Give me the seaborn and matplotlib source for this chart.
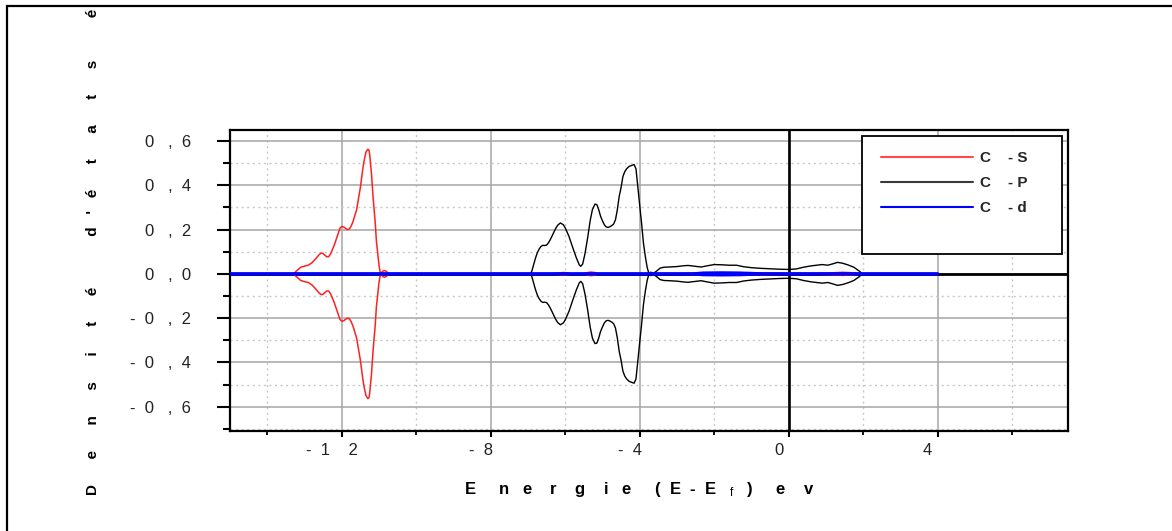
import matplotlib
matplotlib.use("Agg")
import matplotlib.pyplot as plt
import seaborn as sns
from matplotlib.patches import Rectangle
from matplotlib.lines import Line2D
from matplotlib.ticker import MultipleLocator, FixedLocator, FixedFormatter
from matplotlib.transforms import Bbox, TransformedBbox, ScaledTranslation

# ---------------- data (spin-up branch; spin-down is drawn mirrored) ----------------
cs_energy = [-15.0, -13.4, -13.3, -13.2, -13.1, -13.0, -12.9, -12.8, -12.7, -12.6, -12.55,
             -12.5, -12.45, -12.4, -12.35, -12.3, -12.2, -12.1, -12.05, -12.0, -11.95, -11.9,
             -11.85, -11.8, -11.75, -11.7, -11.6, -11.5, -11.43, -11.4, -11.35, -11.3, -11.27,
             -11.25, -11.2, -11.16, -11.1, -11.07, -11.0, -10.96, -10.9, -10.85, -10.8, -10.73,
             -6.4, -6.2, -6.05, -5.95, -5.85, -5.5, -5.4, -5.3, -5.2, -5.12,
             -3.0, -2.5, -1.5, -0.5, 0.0, 0.8, 1.2, 1.45, 1.7, 2.0, 4.0]
cs_dos = [0.0, 0.0, 0.0, 0.015, 0.03, 0.035, 0.039, 0.05, 0.068, 0.088, 0.094,
          0.092, 0.084, 0.077, 0.078, 0.09, 0.13, 0.18, 0.205, 0.214, 0.212, 0.206,
          0.2, 0.202, 0.215, 0.235, 0.29, 0.39, 0.48, 0.51, 0.55, 0.563, 0.56,
          0.54, 0.45, 0.35, 0.23, 0.15, 0.04, 0.0, 0.012, 0.015, 0.011, 0.0,
          0.0, 0.003, 0.006, 0.005, 0.0, 0.0, 0.006, 0.008, 0.006, 0.0,
          0.0, 0.003, 0.005, 0.003, 0.002, 0.002, 0.005, 0.007, 0.005, 0.0, 0.0]

cp_energy = [-15.0, -6.95, -6.9, -6.85, -6.8, -6.75, -6.7, -6.65, -6.6, -6.55, -6.5, -6.45,
             -6.4, -6.35, -6.3, -6.25, -6.2, -6.13, -6.05, -6.0, -5.9, -5.8, -5.7, -5.62,
             -5.58, -5.53, -5.47, -5.4, -5.33, -5.27, -5.2, -5.15, -5.1, -5.05, -5.0, -4.95,
             -4.9, -4.85, -4.8, -4.75, -4.7, -4.65, -4.6, -4.55, -4.5, -4.45, -4.4, -4.35,
             -4.28, -4.2, -4.15, -4.1, -4.06, -4.0, -3.95, -3.9, -3.85, -3.8, -3.75, -3.7,
             -3.65, -3.55, -3.45, -3.35, -3.2, -3.0, -2.8, -2.7, -2.5, -2.35, -2.2, -2.0,
             -1.8, -1.6, -1.4, -1.2, -1.0, -0.75, -0.5, -0.25, 0.0, 0.2, 0.4, 0.6, 0.8,
             0.9, 1.05, 1.2, 1.31, 1.45, 1.6, 1.75, 1.9, 1.98, 4.0]
cp_dos = [0.0, 0.0, 0.01, 0.04, 0.07, 0.095, 0.112, 0.124, 0.129, 0.128, 0.13, 0.14,
          0.155, 0.172, 0.19, 0.207, 0.22, 0.23, 0.222, 0.208, 0.17, 0.12, 0.072, 0.04,
          0.034, 0.045, 0.09, 0.16, 0.24, 0.29, 0.315, 0.313, 0.29, 0.26, 0.24, 0.222,
          0.212, 0.21, 0.213, 0.218, 0.225, 0.245, 0.29, 0.35, 0.39, 0.44, 0.462, 0.475,
          0.486, 0.491, 0.494, 0.475, 0.41, 0.31, 0.23, 0.14, 0.08, 0.03, 0.0, 0.008,
          0.0, 0.012, 0.026, 0.03, 0.031, 0.033, 0.037, 0.038, 0.034, 0.031, 0.036, 0.042,
          0.041, 0.039, 0.039, 0.032, 0.028, 0.025, 0.023, 0.021, 0.02, 0.022, 0.03, 0.036, 0.04,
          0.042, 0.039, 0.046, 0.052, 0.048, 0.04, 0.03, 0.012, 0.0, 0.0]

cd_energy = [-15.0, -2.6, -2.3, -1.8, -1.3, -0.6, 4.0]
cd_dos = [0.0, 0.0, 0.004, 0.005, 0.004, 0.0, 0.0]

series_names = ["C    - S", "C    - P", "C    - d"]
xtick_values = [-12, -8, -4, 0, 4]
xtick_labels = ["-  1    2", "-  8", "-  4", "0", "4"]
ytick_values = [-0.6, -0.4, -0.2, 0.0, 0.2, 0.4, 0.6]
ytick_labels = ["-  0   ,  6", "-  0   ,  4", "-  0   ,  2", "0   ,  0",
                "0   ,  2", "0   ,  4", "0   ,  6"]
ylabel_text = ("D      e      n      s      i      t      é            "
               "d   '   é      t      a      t      s          "
               "é      l      e      c      t      r      o      n      i      q      u      e      s")
xlabel_text = ("E     n   e    r    g    i   e     (  E  -  E   "
               "$_{\\mathrm{f}}$   )     e    v")

# ---------------- style ----------------
sns.set_theme(style="white")
FONT = "Liberation Sans"
plt.rcParams["font.family"] = [FONT, "DejaVu Sans"]
plt.rcParams["mathtext.fontset"] = "custom"
plt.rcParams["mathtext.rm"] = FONT
plt.rcParams["mathtext.it"] = FONT
plt.rcParams["mathtext.bf"] = FONT + ":bold"

W, H = 1172, 531
fig = plt.figure(figsize=(W / 100, H / 100), dpi=100)
fig.patch.set_facecolor("white")
ax = fig.add_axes([230 / W, 100 / H, 838 / W, 301 / H])
ax.set_facecolor("white")

red = "#ff2020"
blue = "#0000ff"

ax.axhline(0, color="black", lw=2.0, zorder=2)
ax.axvline(0, color="black", lw=1.9, zorder=2)

for energy, dos, col, lw, z in [(cs_energy, cs_dos, red, 1.1, 3),
                                (cp_energy, cp_dos, "black", 1.0, 3),
                                (cd_energy, cd_dos, blue, 2.2, 4)]:
    sns.lineplot(x=energy, y=dos, color=col, lw=lw, sort=False, estimator=None,
                 ax=ax, zorder=z)
    sns.lineplot(x=energy, y=[-v for v in dos], color=col, lw=lw, sort=False,
                 estimator=None, ax=ax, zorder=z)

ax.set_xlim(-15, 7.5)
ax.set_ylim(-0.71, 0.65)

ax.xaxis.set_major_locator(FixedLocator(xtick_values))
ax.xaxis.set_major_formatter(FixedFormatter(xtick_labels))
ax.xaxis.set_minor_locator(MultipleLocator(2))
ax.yaxis.set_major_locator(FixedLocator(ytick_values))
ax.yaxis.set_major_formatter(FixedFormatter(ytick_labels))
ax.yaxis.set_minor_locator(MultipleLocator(0.1))

ax.set_axisbelow(True)
ax.grid(which="major", color="#a6a6a6", lw=1.1, ls="-")
ax.grid(which="minor", color="#c8c8c8", lw=1.0, ls=(0, (1.5, 2.5)))

for s in ax.spines.values():
    s.set_visible(True)
    s.set_color("black")
    s.set_linewidth(1.6)

ax.tick_params(axis="y", which="major", direction="out", length=9.4, width=1.5,
               color="black", left=True, right=False, labelsize=12, pad=18.5,
               labelcolor="#222222")
ax.tick_params(axis="y", which="minor", direction="out", length=5.0, width=1.5,
               color="black", left=True, right=False)
ax.tick_params(axis="x", which="major", direction="out", length=4.5, width=1.5,
               color="black", bottom=True, labelsize=12, pad=4, labelcolor="#222222")
ax.tick_params(axis="x", which="minor", direction="out", length=3.0, width=1.3,
               color="black", bottom=True)

shift = ScaledTranslation(-0.10, 0, fig.dpi_scale_trans)
for lbl in ax.get_xticklabels():
    lbl.set_transform(lbl.get_transform() + shift)

# legend box + legend
fig.add_artist(Rectangle((862 / W, (H - 254) / H), 200 / W, 118 / H,
                         transform=fig.transFigure, facecolor="white",
                         edgecolor="black", lw=1.3, zorder=4))
handles = [Line2D([], [], color="#ff4a4a", lw=1.5),
           Line2D([], [], color="#3a3a3a", lw=1.5),
           Line2D([], [], color=blue, lw=1.5)]
fig.legend(handles, series_names, loc="upper left",
           bbox_to_anchor=(881 / W, (H - 151) / H), bbox_transform=fig.transFigure,
           frameon=False, borderpad=0, borderaxespad=0, handlelength=6.0,
           handletextpad=0.45, labelspacing=0.72,
           prop=dict(family=FONT, weight="bold", size=11))

# figure frame (extends beyond the right and bottom of the picture)
fig.add_artist(Rectangle((7 / W, -0.2), 1.5, 0.2 + (H - 6) / H,
                         transform=fig.transFigure, fill=False,
                         edgecolor="black", lw=1.6, zorder=6))

# axis labels (letter-spaced)
t = fig.text(93 / W, (H - 495) / H, ylabel_text, rotation=90, rotation_mode="anchor",
             ha="left", va="center", fontsize=11, fontweight="bold", color="black")
t.set_clip_box(TransformedBbox(Bbox([[0, 0], [1, (H - 6) / H]]), fig.transFigure))
t.set_clip_on(True)

fig.text(639 / W, 37 / H, xlabel_text, ha="center", va="baseline",
         fontsize=12, fontweight="bold", color="black")

fig.savefig("out.png", dpi=100, facecolor="white")
